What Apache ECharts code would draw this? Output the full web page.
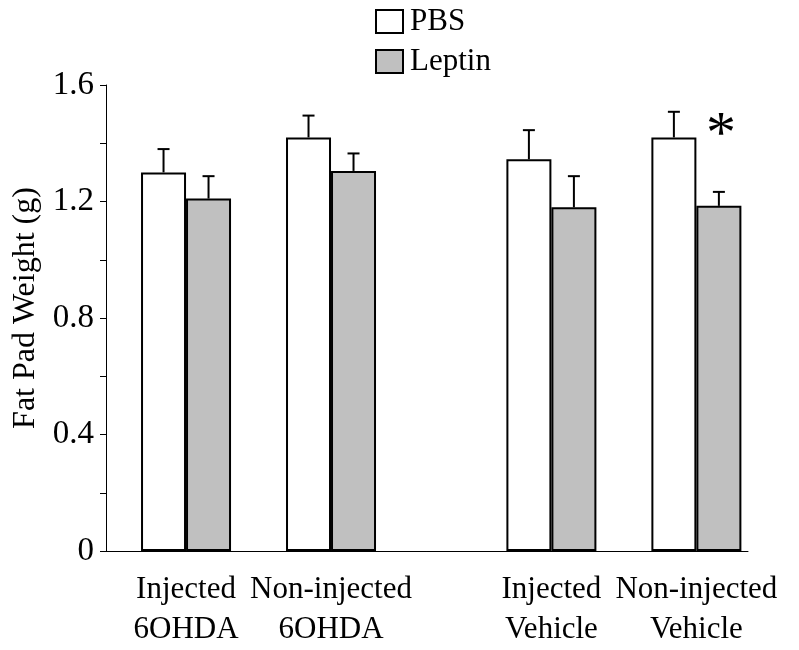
<!DOCTYPE html>
<html><head><meta charset="utf-8">
<script src="https://cdn.jsdelivr.net/npm/echarts@6/dist/echarts.min.js"></script>
<style>html,body{margin:0;padding:0;background:#fff}#c{width:799px;height:650px}</style>
</head><body><div id="c"></div>
<script>
// ---- data ----
const groups = ['Injected\n6OHDA', 'Non-injected\n6OHDA', 'Injected\nVehicle', 'Non-injected\nVehicle'];
const seriesNames = ['PBS', 'Leptin'];
const pbsMean = [1.30, 1.42, 1.345, 1.42];
const pbsErr = [0.08, 0.075, 0.10, 0.088];
const leptinMean = [1.21, 1.305, 1.18, 1.185];
const leptinErr = [0.077, 0.06, 0.107, 0.048];
const leptinSig = [false, false, false, true];
const yTickLabels = ['0', '0.4', '0.8', '1.2', '1.6'];
const yAxisTitle = 'Fat Pad Weight (g)';

// ---- layout ----
const groupPos = [0, 1, 2.52, 3.52];
const BAR_W = 45;
const FONT = 'Liberation Serif';

const chart = echarts.init(document.getElementById('c'), null, {renderer: 'canvas'});

function errSeries(name, means, errs, side, sig) {
  return {
    type: 'custom',
    name: name + ' err',
    z: 5,
    silent: true,
    encode: {x: 0, y: 1},
    data: groupPos.map((x, i) => [x, means[i], errs[i], i]),
    renderItem: function (params, api) {
      const x = api.value(0), m = api.value(1), e = api.value(2), i = api.value(3);
      const base = api.coord([x, m]);
      const top = api.coord([x, m + e]);
      const cx = base[0] + side * BAR_W / 2;
      const children = [
        {type: 'line', shape: {x1: cx, y1: base[1], x2: cx, y2: top[1]}, style: {stroke: '#000', lineWidth: 2}},
        {type: 'line', shape: {x1: cx - 6, y1: top[1], x2: cx + 6, y2: top[1]}, style: {stroke: '#000', lineWidth: 2}}
      ];
      if (sig && sig[i]) {
        const ref = api.coord([x, pbsMean[i]]);
        children.push({type: 'text', style: {text: '*', x: cx + 2, y: ref[1] - 1, font: '60px "' + FONT + '"', textAlign: 'center', textVerticalAlign: 'middle', fill: '#000'}});
      }
      return {type: 'group', children: children};
    }
  };
}

const option = {
  animation: false,
  backgroundColor: '#fff',
  textStyle: {fontFamily: FONT, color: '#000'},
  legend: {
    orient: 'vertical',
    left: 375, top: 6, padding: 0,
    itemWidth: 27, itemHeight: 23, itemGap: 9,
    icon: 'rect',
    data: seriesNames,
    textStyle: {fontFamily: FONT, fontSize: 31, color: '#000', padding: [0, 0, 0, 2]}
  },
  grid: {left: 106, right: 51, top: 85, bottom: 99, containLabel: false},
  xAxis: {
    type: 'value',
    min: -0.552, max: 3.876,
    splitLine: {show: false},
    axisTick: {show: false},
    axisLine: {show: true, onZero: true, lineStyle: {color: '#000', width: 1}},
    axisLabel: {
      customValues: groupPos,
      showMinLabel: true, showMaxLabel: true,
      formatter: function (v) {
        const idx = groupPos.findIndex(p => Math.abs(p - v) < 1e-6);
        return idx >= 0 ? groups[idx] : '';
      },
      fontFamily: FONT, fontSize: 31, color: '#000', lineHeight: 40, margin: 19, align: 'center'
    }
  },
  yAxis: {
    type: 'value',
    min: 0, max: 1.6, interval: 0.2,
    name: yAxisTitle,
    nameLocation: 'middle',
    nameGap: 63,
    nameRotate: 90,
    nameTextStyle: {fontFamily: FONT, fontSize: 32, color: '#000', padding: [0, 0, 0, 20]},
    splitLine: {show: false},
    axisLine: {show: true, onZero: false, lineStyle: {color: '#000', width: 1}},
    axisTick: {show: true, inside: false, length: 6, lineStyle: {color: '#000', width: 1}},
    axisLabel: {
      fontFamily: FONT, fontSize: 33, color: '#000', margin: 12,
      formatter: function (v) {
        const k = Math.round(v * 10);
        return k % 4 === 0 ? yTickLabels[k / 4] : '';
      }
    }
  },
  series: [
    {
      type: 'bar', name: seriesNames[0],
      barWidth: BAR_W, barGap: '0%',
      itemStyle: {color: '#ffffff', borderColor: '#000', borderWidth: 2},
      data: groupPos.map((x, i) => [x, pbsMean[i]])
    },
    {
      type: 'bar', name: seriesNames[1],
      barWidth: BAR_W, barGap: '0%',
      itemStyle: {color: '#c0c0c0', borderColor: '#000', borderWidth: 2},
      data: groupPos.map((x, i) => [x, leptinMean[i]])
    },
    errSeries('PBS', pbsMean, pbsErr, -1, null),
    errSeries('Leptin', leptinMean, leptinErr, 1, leptinSig)
  ]
};
chart.setOption(option);
</script>
</body></html>
